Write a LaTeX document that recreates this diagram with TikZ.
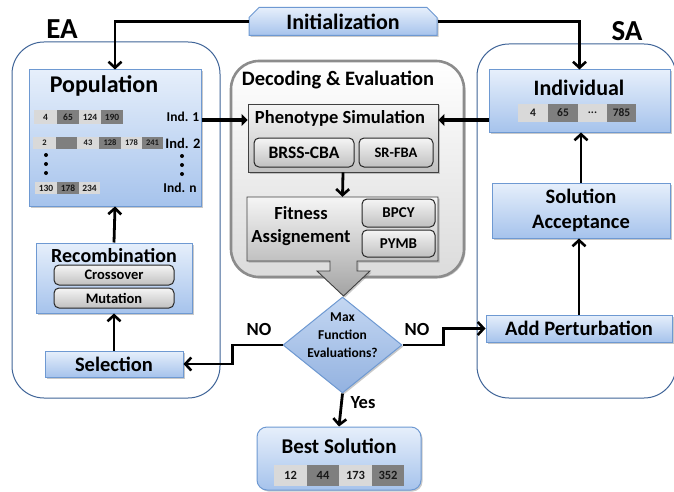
\documentclass[tikz,border=0pt]{standalone}
\usepackage{fontspec}
\setmainfont{Carlito}
\usetikzlibrary{arrows.meta,shapes.geometric,shapes.misc,shadows}
\definecolor{bluetop}{HTML}{E6EFFB}
\definecolor{bluebot}{HTML}{A6C3EC}
\definecolor{blueline}{HTML}{6E99D2}
\definecolor{contline}{HTML}{3F6498}
\definecolor{graytop}{HTML}{F5F5F5}
\definecolor{graybot}{HTML}{C0C0C0}
\definecolor{cellL}{HTML}{D9D9D9}
\definecolor{cellD}{HTML}{7F7F7F}
\definecolor{diatop}{HTML}{C4D7F2}
\definecolor{diabot}{HTML}{93B2E0}
\newcommand\fsz[1]{\fontsize{#1}{#1}\selectfont\bfseries}
\newcommand\mkbox[7]{\node[#1,minimum width={#5-#3},minimum height={#6-#4}] (#2) at ({(#3+#5)/2},{(#4+#6)/2}) {#7};}
\tikzset{
  shad/.style={drop shadow={shadow xshift=1.5pt,shadow yshift=-1.5pt,opacity=0.35,fill=black!60}},
  bluebox/.style={draw=blueline,line width=1pt,top color=bluetop,bottom color=bluebot,inner sep=0pt,align=center,shad},
  graybox/.style={draw=black!75,line width=0.9pt,top color=graytop,bottom color=graybot,inner sep=0pt,shad},
  pill/.style={draw=black!85,line width=1pt,rounded corners=5pt,top color=graytop,bottom color=graybot,inner sep=0pt},
  container/.style={draw=contline,line width=1pt,rounded corners=32pt,fill=white,inner sep=0pt},
  cl/.style={fill=cellL,inner sep=0pt,text=black!90},
  cd/.style={fill=cellD,inner sep=0pt,text=black!90},
  lbl/.style={inner sep=0pt,align=center},
  arr/.style={line width=2.8pt,-{Straight Barb[length=6pt,width=13pt,line width=2.6pt]}},
  thickarr/.style={line width=4.8pt,-{Triangle[length=6pt,width=12pt]}},
}
\begin{document}
\begin{tikzpicture}[x=1pt,y=-1pt]
\useasboundingbox (0,0) rectangle (674,492);
\fill[white] (0,0) rectangle (674,492);

% containers
\mkbox{container}{ea}{12}{42}{220}{398}{}
\mkbox{container}{sa}{477}{44}{676}{398}{}
\mkbox{draw=black!45,line width=2.6pt,rounded corners=28pt,top color=white,bottom color=black!14,inner sep=0pt,shad}{dec}{231}{61}{464}{277}{}

\node[lbl,font=\fsz{29}] (ealbl) at (62,29) {EA};
\node[lbl,font=\fsz{29}] (salbl) at (627,31) {SA};

% Initialization
\node[chamfered rectangle,chamfered rectangle corners={north west,north east},chamfered rectangle xsep=5pt,chamfered rectangle ysep=5pt,draw=blueline,line width=1pt,top color=bluetop,bottom color=bluebot,inner sep=0pt,minimum width=188pt,minimum height=28pt,shad,font=\fsz{22}] (init) at (343,21.5) {Initialization};

% Population
\mkbox{bluebox}{pop}{29}{70}{201}{206}{}
\node[lbl,font=\fsz{24}] (poptitle) at (104,86) {Population};
\mkbox{cl,font=\fsz{9.5}}{a1}{34}{110}{57}{124}{4}
\mkbox{cd,font=\fsz{9.5}}{a2}{57}{110}{79}{124}{65}
\mkbox{cl,font=\fsz{9.5}}{a3}{79}{110}{101}{124}{124}
\mkbox{cd,font=\fsz{9.5}}{a4}{101}{110}{123}{124}{190}
\node[lbl,font=\fsz{13.5}] (ind1) at (183,117) {Ind. 1};
\mkbox{cl,font=\fsz{8.5}}{b1}{33}{137}{56}{149}{2}
\mkbox{cd,font=\fsz{8.5}}{b2}{56}{137}{77}{149}{}
\mkbox{cl,font=\fsz{8.5}}{b3}{77}{137}{99}{149}{43}
\mkbox{cd,font=\fsz{8.5}}{b4}{99}{137}{121}{149}{128}
\mkbox{cl,font=\fsz{8.5}}{b5}{121}{137}{142}{149}{178}
\mkbox{cd,font=\fsz{8.5}}{b6}{142}{137}{163}{149}{241}
\node[lbl,font=\fsz{14.5}] (ind2) at (183,143) {Ind. 2};
\foreach \yy in {155,164,173}{\fill (46,\yy) circle (2pt); \fill (182,\yy+1) circle (2pt);}
\mkbox{cl,font=\fsz{9.5}}{n1}{35}{182}{57}{194}{130}
\mkbox{cd,font=\fsz{9.5}}{n2}{57}{182}{79}{194}{178}
\mkbox{cl,font=\fsz{9.5}}{n3}{79}{182}{100}{194}{234}
\node[lbl,font=\fsz{13.5}] (indn) at (180,188) {Ind. n};

% Recombination
\mkbox{bluebox}{rec}{36}{243}{192}{313}{}
\node[lbl,font=\fsz{20}] (rectitle) at (114,256) {Recombination};
\mkbox{pill,font=\fsz{14.5}}{cross}{54}{265}{174}{285}{Crossover}
\mkbox{pill,font=\fsz{14.5}}{mut}{54}{288}{174}{308}{Mutation}

% Selection
\mkbox{bluebox,font=\fsz{20.5}}{sel}{45}{351}{183}{377}{Selection}

% Decoding & Evaluation
\node[lbl,font=\fsz{20.5}] (dectitle) at (338,80) {Decoding \& Evaluation};
\mkbox{graybox}{pheno}{248}{104}{438}{172}{}
\node[lbl,font=\fsz{18.5}] (phenotitle) at (340,118) {Phenotype Simulation};
\mkbox{pill,font=\fsz{17.5}}{brss}{254}{138}{354}{167}{BRSS-CBA}
\mkbox{pill,font=\fsz{14.5}}{srfba}{359}{138}{433}{167}{SR-FBA}

% Fitness block arrow
\node[inner sep=0pt,minimum width=191pt,minimum height=64pt] (fit) at (342.5,229) {};
\path[draw=black!75,line width=0.9pt,top color=graytop,bottom color=graybot!85!black,shad]
  (247,197) -- (438,197) -- (438,261) -- (357,261) -- (357,271) -- (370,271) -- (343.5,296)
  -- (317,271) -- (330,271) -- (330,261) -- (247,261) -- cycle;
\node[lbl,font=\fsz{18.5}] (fittext) at (301,226) {Fitness\\[4pt]Assignement};
\mkbox{pill,font=\fsz{15}}{bpcy}{362}{199}{435}{227}{BPCY}
\mkbox{pill,font=\fsz{15}}{pymb}{362}{230}{435}{257}{PYMB}

% Individual
\mkbox{bluebox}{ind}{489}{70}{670}{132}{}
\node[lbl,font=\fsz{22}] (indtitle) at (579,88) {Individual};
\mkbox{cl,font=\fsz{11.5}}{i1}{518}{104}{548}{122}{4}
\mkbox{cd,font=\fsz{11.5}}{i2}{548}{104}{578}{122}{65}
\mkbox{cl,font=\fsz{11.5}}{i3}{578}{104}{607}{122}{...}
\mkbox{cd,font=\fsz{11.5}}{i4}{607}{104}{636}{122}{785}

\mkbox{bluebox,font=\fsz{20.5}}{sacc}{492}{183}{670}{238}{Solution\\[5pt]Acceptance}
\mkbox{bluebox,font=\fsz{20.5}}{add}{486}{315}{672}{342}{Add Perturbation}

% Decision
\node[diamond,draw=blueline,line width=1pt,top color=diatop,bottom color=diabot,minimum width=119pt,minimum height=96pt,inner sep=0pt,shad] (dia) at (342.5,345) {};
\node[lbl,font=\fsz{13.5}] (diatext) at (342.5,335) {Max\\[4.5pt]Function\\[4.5pt]Evaluations?};

% Best solution
\mkbox{bluebox,rounded corners=10pt}{best}{257}{427}{421}{490}{}
\node[lbl,font=\fsz{21}] (besttitle) at (339,446) {Best Solution};
\mkbox{cl,font=\fsz{12.5}}{s1}{274}{465}{307}{486}{12}
\mkbox{cd,font=\fsz{12.5}}{s2}{307}{465}{339}{486}{44}
\mkbox{cl,font=\fsz{12.5}}{s3}{339}{465}{372}{486}{173}
\mkbox{cd,font=\fsz{12.5}}{s4}{372}{465}{404}{486}{352}

% connectors
\draw[arr] (init.west) -| (pop.north);
\draw[arr] (init.east) -| (ind.north);
\draw[arr] (rec.north) -- (pop.south);
\draw[arr] (sel.north) -- (rec.south);
\draw[thickarr] ([yshift=18pt]pop.east) -- ([yshift=18pt]pheno.west);
\draw[thickarr] ([yshift=-19pt]ind.west) -- ([yshift=18pt]pheno.east);
\draw[arr] (pheno.south) -- (fit.north);
\draw[arr] (add.north) -- (add.north |- sacc.south);
\draw[arr] (sacc.north) -- (sacc.north |- ind.south);
\draw[arr] (dia.west) -- ++(-50,0) |- (sel.east);
\draw[arr] (dia.east) -- ++(41,0) |- (add.west);
\draw[arr] (dia.south) -- (best.north);
\node[lbl,font=\fsz{18.5}] (noleft) at (259,329) {NO};
\node[lbl,font=\fsz{18.5}] (noright) at (417,329) {NO};
\node[lbl,font=\fsz{18.5}] (yes) at (363,403) {Yes};
\end{tikzpicture}
\end{document}
